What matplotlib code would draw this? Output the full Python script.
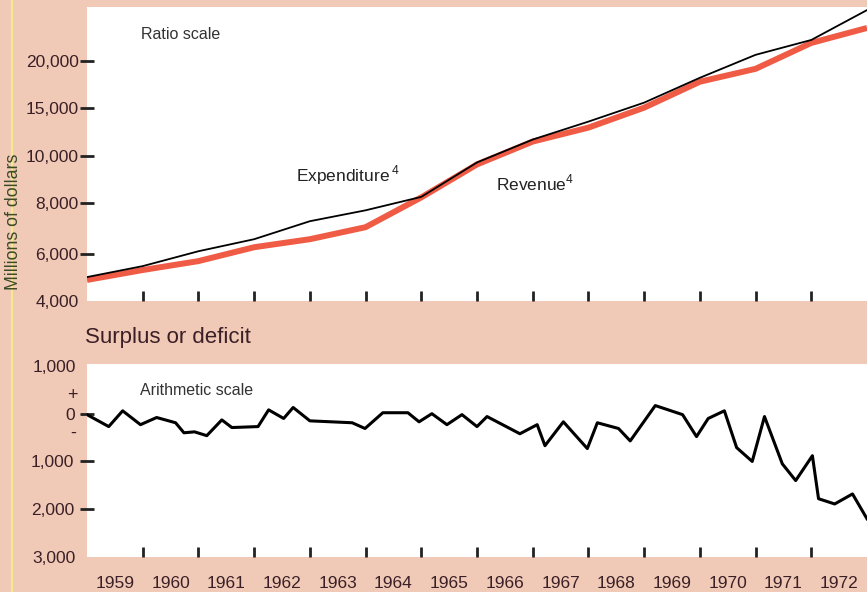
import numpy as np
import matplotlib.pyplot as plt
from matplotlib.ticker import FixedLocator, FixedFormatter, NullFormatter

plt.rcParams['font.family'] = ['Liberation Sans', 'DejaVu Sans']
plt.rcParams['mathtext.fontset'] = 'custom'
plt.rcParams['mathtext.rm'] = 'Liberation Sans'

# annual points (start of each fiscal year), millions of dollars
years = [1959, 1960, 1961, 1962, 1963, 1964, 1965, 1966, 1967, 1968, 1969, 1970, 1971, 1972, 1973]
expenditure = [4920, 5410, 6100, 6530, 7230, 7690, 8250, 9720, 11510, 13360, 15470, 18020, 20750, 22740, 27330]
revenue = [4800, 5230, 5650, 6240, 6530, 6990, 8230, 9630, 11320, 12710, 15000, 17590, 19040, 22330, 24480]

# surplus (+) or deficit (-), millions of dollars
surplus_t = [1959.00, 1959.39, 1959.64, 1959.96, 1960.25, 1960.59, 1960.74, 1960.93, 1961.15, 1961.42,
             1961.60, 1962.07, 1962.26, 1962.53, 1962.70, 1963.00, 1963.76, 1963.99, 1964.31, 1964.76,
             1964.96, 1965.19, 1965.46, 1965.73, 1966.00, 1966.18, 1966.77, 1967.08, 1967.22, 1967.55,
             1967.98, 1968.16, 1968.54, 1968.75, 1969.20, 1969.69, 1969.94, 1970.15, 1970.44, 1970.66,
             1970.94, 1971.16, 1971.48, 1971.72, 1972.02, 1972.13, 1972.42, 1972.74, 1973.00]
surplus = [-20, -270, 60, -230, -80, -190, -400, -380, -460, -130,
           -290, -270, 80, -100, 130, -150, -190, -310, 20, 20,
           -170, 0, -230, -20, -270, -60, -420, -230, -670, -170,
           -730, -190, -310, -570, 170, -20, -480, -100, 60, -710,
           -1000, -60, -1050, -1400, -880, -1780, -1890, -1680, -2200]

ratio_ticks = [4000, 6000, 8000, 10000, 15000, 20000]
ratio_labels = ['4,000', '6,000', '8,000', '10,000', '15,000', '20,000']
year_labels = [str(y) for y in range(1959, 1973)]

bg = '#f1c9b7'
txt = '#3a2026'
red = '#ef5b45'

# "ratio scale": tick marks nearly evenly spaced, log in between
anchor_v = np.log([2000, 4000, 6000, 8000, 10000, 15000, 20000, 40000])
anchor_p = np.array([-80, 0, 47, 98, 145, 194, 241, 354.0])


def fwd(v):
    return np.interp(np.log(np.clip(v, 1, None)), anchor_v, anchor_p)


def inv(p):
    return np.exp(np.interp(p, anchor_p, anchor_v))


fig = plt.figure(figsize=(8.67, 5.92), dpi=100)
fig.patch.set_facecolor(bg)

# top panel
ax1 = fig.add_axes([87 / 867, 1 - 301 / 592, 1 - 87 / 867, 294 / 592])
ax1.set_yscale('function', functions=(fwd, inv))
ax1.plot(years, revenue, color=red, lw=4.3, solid_capstyle='butt', zorder=2)
ax1.plot(years, expenditure, color='black', lw=1.3, zorder=3)
ax1.set_xlim(1959, 1973)
ax1.set_ylim(4000, inv(295))

ax1.yaxis.set_major_locator(FixedLocator(ratio_ticks[1:]))
ax1.yaxis.set_major_formatter(FixedFormatter(ratio_labels[1:]))
ax1.yaxis.set_minor_locator(FixedLocator(ratio_ticks[:1]))
ax1.yaxis.set_minor_formatter(FixedFormatter(ratio_labels[:1]))
ax1.tick_params(axis='y', which='major', direction='inout', length=10, width=2,
                labelsize=12.5, labelcolor=txt, color='#222222', pad=1)
ax1.tick_params(axis='y', which='minor', length=0, labelsize=12.5, labelcolor=txt, pad=6)

ax1.xaxis.set_major_locator(FixedLocator(range(1960, 1973)))
ax1.xaxis.set_major_formatter(NullFormatter())
ax1.tick_params(axis='x', direction='in', length=7, width=2, color='#222222')
for s in ax1.spines.values():
    s.set_visible(False)

ax1.text(0.12, 0.905, 'Ratio scale', transform=ax1.transAxes, fontsize=11.5, color='#333333',
         ha='center', va='center')
ax1.text(1963.68, 9150, 'Expenditure$\\,^{4}$', fontsize=12.5, color='#222222', ha='center', va='center')
ax1.text(1967.05, 8800, 'Revenue$^{4}$', fontsize=12.5, color='#222222', ha='center', va='center')

# bottom panel
ax2 = fig.add_axes([87 / 867, 1 - 557 / 592, 1 - 87 / 867, 193 / 592])
ax2.plot(surplus_t, surplus, color='black', lw=2.2, zorder=3)
ax2.set_xlim(1959, 1973)
ax2.set_ylim(-3000, 1040)

ax2.yaxis.set_major_locator(FixedLocator([0, -1000, -2000]))
ax2.yaxis.set_major_formatter(FixedFormatter(['0', '1,000', '2,000']))
ax2.yaxis.set_minor_locator(FixedLocator([1000, -3000]))
ax2.yaxis.set_minor_formatter(FixedFormatter(['1,000', '3,000']))
ax2.tick_params(axis='y', which='major', direction='inout', length=10, width=2,
                labelsize=12.5, labelcolor=txt, color='#222222', pad=4)
ax2.tick_params(axis='y', which='minor', length=0, labelsize=12.5, labelcolor=txt, pad=8)

ax2.xaxis.set_major_locator(FixedLocator(range(1960, 1973)))
ax2.xaxis.set_major_formatter(NullFormatter())
ax2.xaxis.set_minor_locator(FixedLocator(np.arange(1959.5, 1973, 1.0)))
ax2.xaxis.set_minor_formatter(FixedFormatter(year_labels))
ax2.tick_params(axis='x', which='major', direction='in', length=7, width=2, color='#222222')
ax2.tick_params(axis='x', which='minor', length=0, labelsize=12.5, labelcolor=txt, pad=14)
for s in ax2.spines.values():
    s.set_visible(False)

ax2.text(0.141, 0.865, 'Arithmetic scale', transform=ax2.transAxes, fontsize=11.5, color='#333333',
         ha='center', va='center')

# + and - marks beside the zero line
fig.text(72 / 867, 1 - 395 / 592, '+', fontsize=13, color=txt, ha='center', va='center')
fig.text(73 / 867, 1 - 433 / 592, '-', fontsize=13, color=txt, ha='center', va='center')

fig.text(85 / 867, 1 - 337 / 592, 'Surplus or deficit', fontsize=16, color=txt, ha='left', va='center')
fig.text(14 / 867, 1 - 222 / 592, 'Millions of dollars', fontsize=12.8, color='#3b4a26',
         rotation=90, ha='center', va='center')

# thin yellow rule at the left edge
fig.add_artist(plt.Line2D([12 / 867, 12 / 867], [0, 1], color='#f3ea8a', lw=1.5))

fig.savefig('out.png', dpi=100, facecolor=bg)
